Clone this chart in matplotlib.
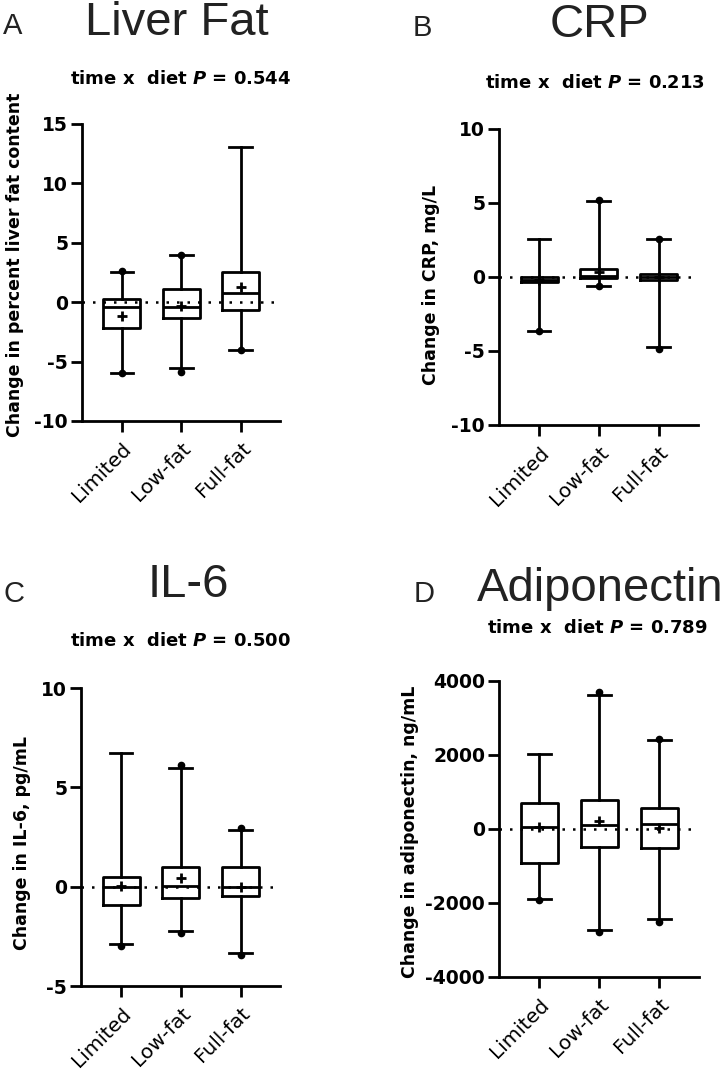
import matplotlib
matplotlib.use('Agg')
import matplotlib.pyplot as plt

plt.rcParams['font.family'] = ['DejaVu Sans']
plt.rcParams['mathtext.fontset'] = 'custom'
plt.rcParams['mathtext.it'] = 'DejaVu Sans:italic:bold'
plt.rcParams['mathtext.rm'] = 'DejaVu Sans'
plt.rcParams['mathtext.bf'] = 'DejaVu Sans:bold'

groups = ['Limited', 'Low-fat', 'Full-fat']

# Liver fat
liver_whislo = [-6.0, -5.55, -4.0]
liver_q1 = [-2.15, -1.35, -0.65]
liver_med = [-0.4, -0.4, 0.75]
liver_q3 = [0.25, 1.1, 2.55]
liver_whishi = [2.5, 3.95, 13.1]
liver_mean = [-1.2, -0.3, 1.3]
liver_dot_lo = [-6.0, -5.9, -4.0]
liver_dot_hi = [2.6, 4.0, None]

# CRP
crp_whislo = [-3.65, -0.63, -4.7]
crp_q1 = [-0.36, -0.07, -0.22]
crp_med = [-0.2, 0.05, 0.0]
crp_q3 = [0.02, 0.57, 0.23]
crp_whishi = [2.6, 5.15, 2.6]
crp_mean = [-0.2, 0.35, 0.0]
crp_dot_lo = [-3.65, -0.6, -4.85]
crp_dot_hi = [None, 5.2, 2.6]

# IL-6
il6_whislo = [-2.91, -2.24, -3.33]
il6_q1 = [-0.93, -0.55, -0.45]
il6_med = [0.0, 0.05, 0.0]
il6_q3 = [0.47, 0.98, 0.98]
il6_whishi = [6.75, 5.98, 2.86]
il6_mean = [0.05, 0.42, 0.0]
il6_dot_lo = [-2.99, -2.35, -3.45]
il6_dot_hi = [None, 6.1, 2.95]

# Adiponectin
adipo_whislo = [-1900, -2730, -2437]
adipo_q1 = [-910, -478, -522]
adipo_med = [62, 108, 127]
adipo_q3 = [694, 784, 576]
adipo_whishi = [2040, 3620, 2405]
adipo_mean = [60, 216, 30]
adipo_dot_lo = [-1920, -2795, -2509]
adipo_dot_hi = [None, 3700, 2420]

W, H = 725, 1073
fig = plt.figure(figsize=(W / 100, H / 100), dpi=100)


def px_axes(l, r, t, b):
    return fig.add_axes([l / W, 1 - b / H, (r - l) / W, (b - t) / H])


panels = [
    dict(rect=(82, 280, 124, 421), lo=liver_whislo, q1=liver_q1, med=liver_med, q3=liver_q3,
         hi=liver_whishi, mean=liver_mean, dlo=liver_dot_lo, dhi=liver_dot_hi,
         ylim=(-10, 15), yticks=[-10, -5, 0, 5, 10, 15],
         ylabel='Change in percent liver fat content', ylab_xy=(15, 265),
         title='Liver Fat', title_xy=(177, 23), letter='A', letter_xy=(13, 26),
         ptext='0.544', p_xy=(70, 79)),
    dict(rect=(499, 698, 129, 425), lo=crp_whislo, q1=crp_q1, med=crp_med, q3=crp_q3,
         hi=crp_whishi, mean=crp_mean, dlo=crp_dot_lo, dhi=crp_dot_hi,
         ylim=(-10, 10), yticks=[-10, -5, 0, 5, 10],
         ylabel='Change in CRP, mg/L', ylab_xy=(431, 285),
         title='CRP', title_xy=(600, 25), letter='B', letter_xy=(422, 28),
         ptext='0.213', p_xy=(485, 83)),
    dict(rect=(81, 280, 688, 986), lo=il6_whislo, q1=il6_q1, med=il6_med, q3=il6_q3,
         hi=il6_whishi, mean=il6_mean, dlo=il6_dot_lo, dhi=il6_dot_hi,
         ylim=(-5, 10), yticks=[-5, 0, 5, 10],
         ylabel='Change in IL-6, pg/mL', ylab_xy=(22, 843),
         title='IL-6', title_xy=(188, 585), letter='C', letter_xy=(14, 594),
         ptext='0.500', p_xy=(70, 641)),
    dict(rect=(499, 699, 681, 977), lo=adipo_whislo, q1=adipo_q1, med=adipo_med, q3=adipo_q3,
         hi=adipo_whishi, mean=adipo_mean, dlo=adipo_dot_lo, dhi=adipo_dot_hi,
         ylim=(-4000, 4000), yticks=[-4000, -2000, 0, 2000, 4000],
         ylabel='Change in adiponectin, ng/mL', ylab_xy=(410, 832),
         title='Adiponectin', title_xy=(600, 589), letter='D', letter_xy=(424, 594),
         ptext='0.789', p_xy=(487, 628)),
]

LW = 2.0
positions = [1, 2, 3]
for p in panels:
    l, r, t, b = p['rect']
    ax = px_axes(l, r, t, b)
    stats = []
    for i, g in enumerate(groups):
        stats.append(dict(label=g, whislo=p['lo'][i], q1=p['q1'][i], med=p['med'][i],
                          q3=p['q3'][i], whishi=p['hi'][i], mean=p['mean'][i], fliers=[]))
    ax.axhline(0, color='black', lw=1.8, ls=(0, (1, 3.2)), zorder=1)
    ax.bxp(stats, positions=positions, widths=0.62, capwidths=0.38,
           showmeans=True, showfliers=False, manage_ticks=False,
           boxprops=dict(color='black', lw=LW),
           whiskerprops=dict(color='black', lw=LW),
           capprops=dict(color='black', lw=LW),
           medianprops=dict(color='black', lw=LW),
           meanprops=dict(marker='+', markeredgecolor='black', markersize=7, mew=2.0),
           zorder=3)
    for i in range(3):
        if p['dlo'][i] is not None:
            ax.plot(positions[i], p['dlo'][i], 'o', color='black', ms=4.5, zorder=4)
        if p['dhi'][i] is not None:
            ax.plot(positions[i], p['dhi'][i], 'o', color='black', ms=4.5, zorder=4)
    ax.set_xlim(0.33, 3.66)
    ax.set_ylim(*p['ylim'])
    ax.set_yticks(p['yticks'])
    ax.set_yticklabels([str(v) for v in p['yticks']], fontsize=13.5, fontweight='bold')
    ax.set_xticks(positions)
    ax.set_xticklabels(groups, rotation=45, ha='right', rotation_mode='anchor', fontsize=14.5)
    for s in ['top', 'right']:
        ax.spines[s].set_visible(False)
    for s in ['left', 'bottom']:
        ax.spines[s].set_linewidth(LW)
    ax.tick_params(axis='both', width=LW, length=8, direction='out', colors='black')
    ax.tick_params(axis='x', pad=5)
    ax.tick_params(axis='y', pad=2)
    fig.text(p['ylab_xy'][0] / W, 1 - p['ylab_xy'][1] / H, p['ylabel'], rotation=90,
             ha='center', va='center', fontsize=12.5, fontweight='bold')
    fig.text(p['title_xy'][0] / W, 1 - p['title_xy'][1] / H, p['title'], ha='center', va='center',
             fontsize=34, color='#222222', family='Liberation Sans')
    fig.text(p['letter_xy'][0] / W, 1 - p['letter_xy'][1] / H, p['letter'], ha='center', va='center',
             fontsize=21, color='#222222', family='Liberation Sans')
    fig.text(p['p_xy'][0] / W, 1 - p['p_xy'][1] / H,
             r'time x  diet $\it{P}$ = ' + p['ptext'], ha='left', va='center',
             fontsize=13, fontweight='bold')

fig.savefig('out.png', dpi=100)
